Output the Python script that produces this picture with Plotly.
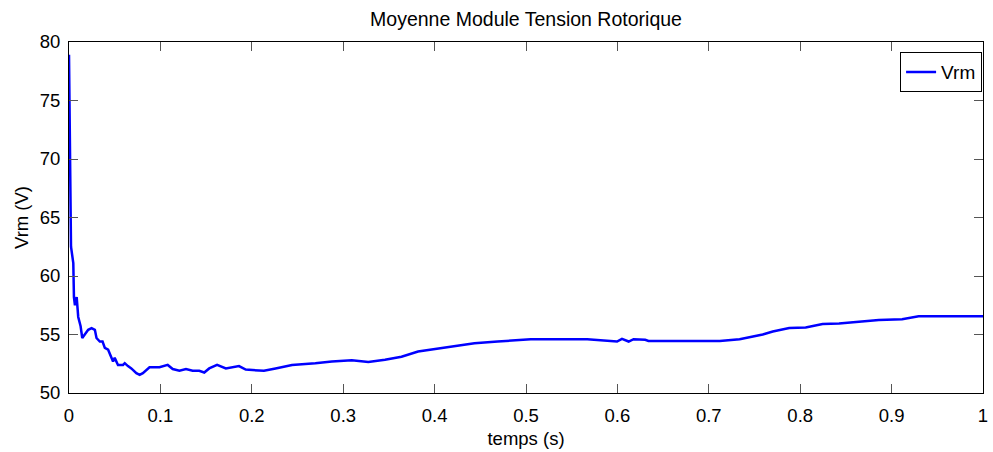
import plotly.graph_objects as go

# Data
time_s = [0.0, 0.0022, 0.0047, 0.0054, 0.0065, 0.0084, 0.0101, 0.0127, 0.0145, 0.0174,
          0.021, 0.0247, 0.0283, 0.0301, 0.0337, 0.0367, 0.0392, 0.0428, 0.0465, 0.0482,
          0.050, 0.0536, 0.0591, 0.061, 0.0645, 0.0682, 0.0737, 0.0773, 0.0808, 0.0845,
          0.0881, 0.099, 0.108, 0.1135, 0.1208, 0.128, 0.1353, 0.1425, 0.148, 0.1534,
          0.162, 0.1716, 0.186, 0.1934, 0.2133, 0.226, 0.244, 0.2695, 0.2876, 0.3094,
          0.3275, 0.3457, 0.3638, 0.3819, 0.4001, 0.4182, 0.4436, 0.469, 0.5052, 0.567,
          0.5996, 0.605, 0.6123, 0.6177, 0.6304, 0.634, 0.712, 0.7337, 0.7483, 0.759,
          0.77, 0.788, 0.806, 0.8245, 0.8425, 0.8607, 0.886, 0.9115, 0.9296, 1.0]
vrm = [78.9, 62.5, 61.1, 58.2, 57.5, 58.2, 56.5, 55.7, 54.7, 55.0,
       55.4, 55.55, 55.4, 54.7, 54.4, 54.4, 53.85, 53.7, 52.99, 52.7,
       53.0, 52.4, 52.4, 52.55, 52.3, 52.1, 51.7, 51.55, 51.7, 52.0,
       52.2, 52.2, 52.4, 52.05, 51.9, 52.05, 51.9, 51.9, 51.75, 52.1,
       52.4, 52.1, 52.3, 52.0, 51.9, 52.1, 52.4, 52.55, 52.7, 52.8,
       52.65, 52.85, 53.1, 53.55, 53.75, 53.95, 54.25, 54.4, 54.6, 54.6,
       54.4, 54.63, 54.4, 54.6, 54.55, 54.45, 54.45, 54.6, 54.8, 55.0,
       55.25, 55.55, 55.6, 55.9, 55.95, 56.1, 56.25, 56.3, 56.55, 56.55]

x_ticks = [0, 0.1, 0.2, 0.3, 0.4, 0.5, 0.6, 0.7, 0.8, 0.9, 1]
x_tick_labels = ["0", "0.1", "0.2", "0.3", "0.4", "0.5", "0.6", "0.7", "0.8", "0.9", "1"]
y_ticks = [50, 55, 60, 65, 70, 75, 80]

FONT = "Liberation Sans, Arial, sans-serif"

fig = go.Figure()
fig.add_trace(go.Scatter(x=time_s, y=vrm, mode="lines", name="Vrm",
                         line=dict(color="#0000ff", width=2.5)))

fig.update_layout(
    width=993, height=452,
    margin=dict(l=69, r=5, t=42, b=59),
    paper_bgcolor="white", plot_bgcolor="white",
    font=dict(family=FONT, size=18, color="black"),
    title=dict(text="Moyenne Module Tension Rotorique", x=0.5, xref="paper",
               y=1 - 19 / 452, yref="container", yanchor="middle", xanchor="center",
               font=dict(family=FONT, size=19.5, color="black")),
    showlegend=True,
    legend=dict(x=0.999, y=0.971, xanchor="right", yanchor="top",
                bgcolor="white", bordercolor="black", borderwidth=1,
                font=dict(family=FONT, size=19, color="black")),
)
fig.update_xaxes(range=[0, 1], tickvals=x_ticks, ticktext=x_tick_labels,
                 showgrid=False, zeroline=False, showline=True, linecolor="black",
                 linewidth=1, mirror="ticks", ticks="inside", ticklen=9,
                 tickcolor="#555555", tickfont=dict(size=18.5), ticklabelstandoff=6,
                 ticklabeloverflow="allow",
                 title=dict(text="temps (s)", font=dict(size=18.5), standoff=6))
fig.update_yaxes(range=[50, 80], tickvals=y_ticks,
                 showgrid=False, zeroline=False, showline=True, linecolor="black",
                 linewidth=1, mirror="ticks", ticks="inside", ticklen=9,
                 tickcolor="#555555", tickfont=dict(size=18.5), ticklabelstandoff=4,
                 ticklabeloverflow="allow",
                 title=dict(text="Vrm (V)", font=dict(size=18.5), standoff=6))

fig.write_html("out.html")
